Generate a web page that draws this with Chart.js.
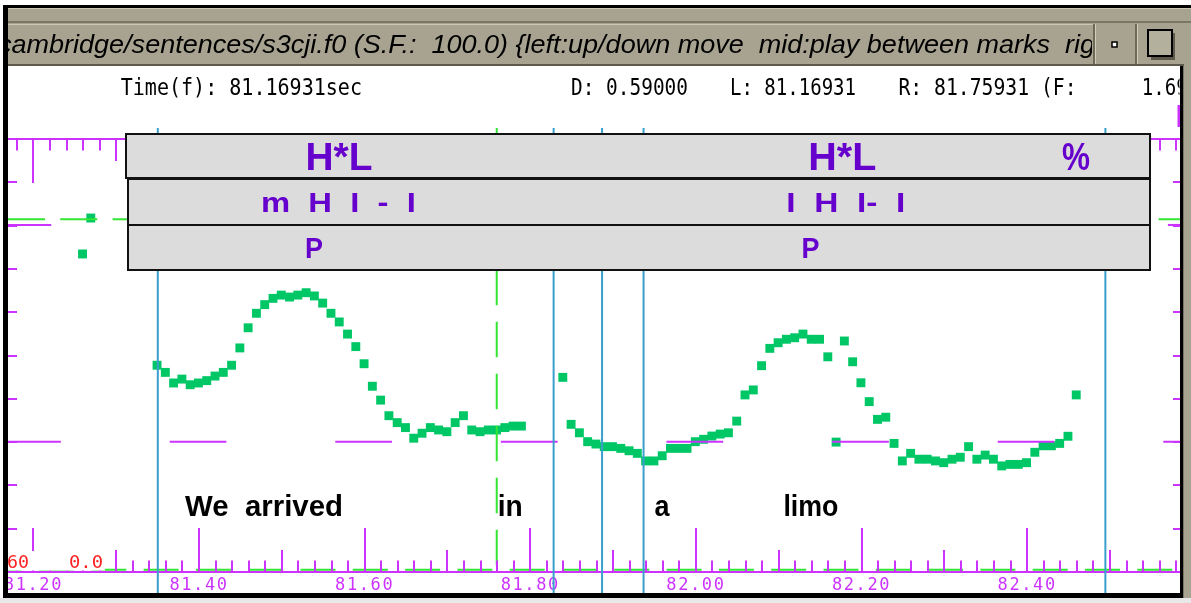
<!DOCTYPE html>
<html><head><meta charset="utf-8">
<script src="https://cdn.jsdelivr.net/npm/chart.js@4"></script>
<style>html,body{margin:0;padding:0;background:#fff;overflow:hidden}canvas{display:block}</style>
</head><body>
<canvas id="c" width="1191" height="603"></canvas>
<script>
// ---------- DATA ----------
const xMin = 81.16931, xMax = 82.5846;   // seconds (L edge .. right edge)
const yMin = 60, yMax = 260;            // Hz
const xTickValues = [81.20, 81.40, 81.60, 81.80, 82.00, 82.20, 82.40];
const yTickValues = [80, 100, 120, 140, 160, 180, 200, 220, 240];

const f0Times = [81.2593, 81.2693,
 81.3493, 81.3593, 81.3693, 81.3793, 81.3893, 81.3993, 81.4093, 81.4193, 81.4293, 81.4393,
 81.4493, 81.4593, 81.4693, 81.4793, 81.4893, 81.4993, 81.5093, 81.5193, 81.5293, 81.5393,
 81.5493, 81.5593, 81.5693, 81.5793, 81.5893, 81.5993, 81.6093, 81.6193, 81.6293, 81.6393,
 81.6493, 81.6593, 81.6693, 81.6793, 81.6893, 81.6993, 81.7093, 81.7193, 81.7293, 81.7393,
 81.7493, 81.7593, 81.7693, 81.7793, 81.7893,
 81.8393, 81.8493, 81.8593, 81.8693, 81.8793, 81.8893, 81.8993, 81.9093, 81.9193, 81.9293,
 81.9393, 81.9493, 81.9593, 81.9693, 81.9793, 81.9893, 81.9993, 82.0093, 82.0193, 82.0293,
 82.0393, 82.0493, 82.0593, 82.0693, 82.0793, 82.0893, 82.0993, 82.1093, 82.1193, 82.1293,
 82.1393, 82.1493, 82.1593, 82.1693, 82.1793, 82.1893, 82.1993, 82.2093, 82.2193, 82.2293,
 82.2393, 82.2493, 82.2593, 82.2693, 82.2793, 82.2893, 82.2993, 82.3093, 82.3193, 82.3293,
 82.3393, 82.3493, 82.3593, 82.3693, 82.3793, 82.3893, 82.3993, 82.4093, 82.4193, 82.4293,
 82.4393, 82.4493, 82.4593];
const f0Values = [206.9, 223.5,
 155.5, 152.2, 147.3, 149.1, 146.5, 147.3, 148.4, 150.5, 152.2, 155.5,
 163.5, 172.8, 179.5, 183.5, 186.4, 187.9, 187.0, 187.9, 189.0, 187.5,
 184.2, 179.5, 175.5, 169.9, 164.1, 156.2, 145.8, 139.4, 132.2, 129.0,
 126.7, 121.8, 124.1, 126.7, 125.6, 124.8, 129.0, 132.2, 125.6, 124.8,
 125.6, 125.6, 126.7, 127.4, 127.4,
 149.9, 128.2, 124.3, 120.2, 119.1, 117.9, 117.9, 117.1, 116.0, 114.8,
 111.3, 111.3, 113.7, 117.1, 117.1, 117.1, 120.2, 121.3, 122.8, 123.7,
 124.3, 129.7, 141.8, 144.1, 155.3, 163.3, 165.9, 167.5, 168.2, 169.9,
 167.5, 167.5, 159.4, 120.0, 166.7, 157.1, 147.4, 138.7, 130.5, 131.5,
 119.4, 111.3, 114.8, 112.1, 112.1, 111.3, 110.5, 112.1, 113.0, 117.9,
 112.1, 114.0, 112.1, 109.0, 109.7, 109.7, 110.5, 115.3, 118.3, 118.3,
 119.4, 122.7, 141.8];

const boundaryTimes = [81.3502, 81.8282, 81.8867, 81.9368, 82.4945];
const markerTime = 81.7595;
const refLevel = 120.2;
const cursorLevel = 222.9;
const cursorTickLevel = 220.3;
const zeroLevel = 61;
const lineTop = 265.1, lineBottom = 50;

const words = ['We  arrived', 'in', 'a', 'limo'];
const wordTimes = [81.3831, 81.7607, 81.9501, 82.1057];
const tier1Labels = ['H*L', 'H*L', '%'];
const tier1Times = [81.5689, 82.1768, 82.4591];
const tier2Labels = ['m  H  I  -  I', 'I  H  I-  I'];
const tier2Times = [81.5683, 82.1810];
const tier3Labels = ['P', 'P'];
const tier3Times = [81.5387, 82.1383];

const titleText = 'cambridge/sentences/s3cji.f0 (S.F.:  100.0) {left:up/down move  mid:play between marks  right:menu}';
const headerTexts = ['Time(f): 81.16931sec', 'D: 0.59000', 'L: 81.16931', 'R: 81.75931 (F:', '1.69'];
const yLabels = ['60', '0.0'];

// ---------- STYLE ----------
const MAG = '#cc33ff', CYAN = '#3a9fcc', GLINE = '#33e633', GPT = '#00c766', PURPLE = '#6600cc';

function fitText(ctx, text, x, y, w, font, color) {
  ctx.save();
  ctx.font = font; ctx.fillStyle = color; ctx.textAlign = 'left'; ctx.textBaseline = 'alphabetic';
  const m = ctx.measureText(text).width;
  ctx.translate(x, y); ctx.scale(w / m, 1); ctx.fillText(text, 0, 0);
  ctx.restore();
}
function seg(ax, ay, bx, by) { return [{x: ax, y: ay}, {x: bx, y: by}]; }

const lineDs = (data, color, extra) => Object.assign({
  data, showLine: true, borderColor: color, borderWidth: 2, pointRadius: 0,
  clip: false, order: 0, fill: false, tension: 0
}, extra || {});

const datasets = [
  { data: f0Times.map((t, i) => ({x: t, y: f0Values[i]})), showLine: false,
    pointStyle: 'rect', pointRadius: 6.3, pointBackgroundColor: GPT, pointBorderWidth: 0,
    pointHoverRadius: 6.3, order: 10 },
  ...boundaryTimes.map(t => lineDs(seg(t, lineTop, t, lineBottom), CYAN)),
  lineDs(seg(markerTime, lineTop, markerTime, yMin), GLINE, {borderDash: [35.6, 16.4], borderDashOffset: 14.3}),
  lineDs(seg(xMin, cursorLevel, xMax, cursorLevel), GLINE, {borderDash: [37, 15.3], borderDashOffset: 0}),
  lineDs(seg(xMin, refLevel, xMax, refLevel), MAG, {borderDash: [56.7, 108.9], borderDashOffset: 3.9}),
  lineDs(seg(xMin, zeroLevel, xMax, zeroLevel), GLINE, {borderDash: [35, 17.3], borderDashOffset: 21.3}),
  lineDs(seg(xMin, cursorTickLevel, 81.2215, cursorTickLevel), MAG),
  lineDs(seg(82.5700, cursorTickLevel, xMax, cursorTickLevel), MAG)
];

const deco = {
  id: 'deco',
  beforeDraw(chart) {
    const c = chart.ctx;
    c.save(); c.fillStyle = '#fff'; c.fillRect(0, 0, chart.width, chart.height); c.restore();
    c.letterSpacing = '1.6px';
  },
  beforeDatasetsDraw(chart) { chart.ctx.letterSpacing = '0px'; },
  afterDatasetsDraw(chart) {
    const c = chart.ctx, xs = chart.scales.x, ys = chart.scales.y, ca = chart.chartArea;
    c.save();
    c.strokeStyle = MAG; c.lineWidth = 2;
    // top axis line
    c.beginPath(); c.moveTo(ca.left, ca.top); c.lineTo(ca.right, ca.top); c.stroke();
    // ticks top & bottom
    for (let k = Math.ceil(xMin * 50); k <= Math.floor(xMax * 50); k++) {
      const px = Math.round(xs.getPixelForValue(k / 50));
      const len = (k % 10 === 0) ? 44 : (k % 5 === 0 ? 22 : 11.5);
      c.beginPath();
      c.moveTo(px, ca.top); c.lineTo(px, ca.top + len);
      c.moveTo(px, ca.bottom); c.lineTo(px, ca.bottom - len);
      c.stroke();
    }
    // y ticks left and right
    yTickValues.forEach(v => {
      const py = Math.round(ys.getPixelForValue(v));
      c.beginPath();
      c.moveTo(ca.left, py); c.lineTo(ca.left + 9, py);
      c.moveTo(ca.right - 7, py); c.lineTo(ca.right, py);
      c.stroke();
    });
    // red scale labels
    c.fillStyle = '#fff'; c.fillRect(ca.left, 551, 97, 19.5);
    fitText(c, yLabels[0], 7, 568, 22, '17px "DejaVu Sans Mono"', '#ff2222');
    fitText(c, yLabels[1], 69, 568, 34, '17px "DejaVu Sans Mono"', '#ff2222');
    // tier boxes
    c.lineWidth = 2; c.strokeStyle = '#111'; c.fillStyle = '#dcdcdc';
    [[126, 134, 1024, 44], [128, 179, 1022, 46], [128, 225, 1022, 45]].forEach(r => {
      c.fillRect(r[0], r[1], r[2], r[3]); c.strokeRect(r[0], r[1], r[2], r[3]);
    });
    const t1w = [67, 68, 28], t2w = [155, 119], t3w = [18, 18];
    tier1Labels.forEach((s, i) => fitText(c, s, xs.getPixelForValue(tier1Times[i]) - t1w[i] / 2, 170, t1w[i], 'bold 39px "Liberation Sans"', PURPLE));
    tier2Labels.forEach((s, i) => fitText(c, s, xs.getPixelForValue(tier2Times[i]) - t2w[i] / 2, 212, t2w[i], 'bold 28px "Liberation Sans"', PURPLE));
    tier3Labels.forEach((s, i) => fitText(c, s, xs.getPixelForValue(tier3Times[i]) - t3w[i] / 2, 258, t3w[i], 'bold 30px "Liberation Sans"', PURPLE));
    // words
    const ww = [158, 25, 15, 55];
    words.forEach((s, i) => fitText(c, s, xs.getPixelForValue(wordTimes[i]), 516, ww[i], 'bold 29px "Liberation Sans"', '#000'));
    c.restore();
  },
  afterDraw(chart) {
    const c = chart.ctx;
    c.save();
    // header texts
    c.save(); c.beginPath(); c.rect(8, 66, 1171.5, 60); c.clip();
    const hx = [120.7, 571, 730, 898.4, 1141.7], hw = [241.3, 117, 126, 178.2, 46];
    headerTexts.forEach((s, i) => fitText(c, s, hx[i], 95, hw[i], '23px "DejaVu Sans Mono"', '#000'));
    c.restore();
    // small magenta mark top right
    c.fillStyle = MAG; c.fillRect(1177.5, 105, 2.5, 22);
    // title bar
    c.fillStyle = '#000'; c.fillRect(3, 5, 1188, 3);
    c.fillStyle = '#a7a390'; c.fillRect(4, 8, 1187, 58);
    c.fillStyle = '#c9c6b6'; c.fillRect(4, 8, 1187, 1); c.fillRect(4, 24, 1090, 1);
    c.fillStyle = '#7a7664'; c.fillRect(4, 21, 1187, 2);
    c.fillStyle = '#5d5a4b'; c.fillRect(4, 64, 1180, 2);
    c.save(); c.beginPath(); c.rect(4, 24, 1088, 40); c.clip();
    c.font = 'italic 26px "Liberation Sans"';
    const pre = titleText.slice(0, titleText.indexOf('marks') + 5);
    const sc = 1052 / c.measureText(pre).width;
    c.translate(-2, 53); c.scale(sc, 1); c.fillStyle = '#000'; c.fillText(titleText, 0, 0);
    c.restore();
    // title bar buttons
    c.fillStyle = '#6e6a58'; c.fillRect(1093, 24, 2, 40); c.fillRect(1135, 24, 2, 40);
    c.fillStyle = '#d0cdbd'; c.fillRect(1095, 24, 1, 40); c.fillRect(1137, 24, 1, 40);
    c.fillStyle = '#fff'; c.fillRect(1112, 42, 5, 5);
    c.strokeStyle = '#000'; c.lineWidth = 1.5; c.strokeRect(1112, 42, 5, 5);
    c.fillStyle = '#5d5a4b'; c.fillRect(1151, 33, 24, 27);
    c.fillStyle = '#b4b09e'; c.fillRect(1148, 30, 24, 26);
    c.lineWidth = 2; c.strokeStyle = '#000'; c.strokeRect(1148, 30, 24, 26);
    // window frame
    c.fillStyle = '#000';
    c.fillRect(3, 5, 5, 594);          // left
    c.fillRect(3, 593, 1181, 5);       // bottom
    c.fillRect(1180, 66, 3, 532);      // right
    c.fillStyle = '#a7a390'; c.fillRect(1183, 66, 8, 532);
    c.fillStyle = '#7a7664'; c.fillRect(1183, 66, 1, 532);
    c.fillStyle = '#e8e8e8'; c.fillRect(0, 598, 1191, 5);
    c.restore();
  }
};

Chart.defaults.font.family = '"DejaVu Sans Mono"';
new Chart(document.getElementById('c'), {
  type: 'scatter',
  data: { datasets },
  options: {
    responsive: false, animation: false, devicePixelRatio: 1, events: [],
    layout: { padding: { left: 8, right: 11, top: 139, bottom: 0 } },
    plugins: { legend: { display: false }, tooltip: { enabled: false } },
    scales: {
      x: {
        type: 'linear', position: 'bottom', min: xMin, max: xMax,
        afterBuildTicks: s => { s.ticks = xTickValues.map(v => ({ value: v })); },
        afterFit: s => { s.height = 31; },
        grid: { display: false, drawTicks: false },
        border: { display: true, color: MAG, width: 2 },
        ticks: { autoSkip: false, maxRotation: 0, padding: 3, color: MAG,
          font: { family: '"DejaVu Sans Mono"', size: 17 },
          callback: v => Number(v).toFixed(2) }
      },
      y: { type: 'linear', min: yMin, max: yMax, display: false }
    }
  },
  plugins: [deco]
});
</script>
</body></html>
